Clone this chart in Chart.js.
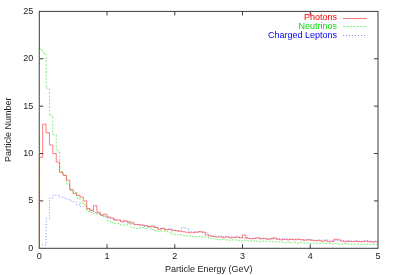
<!DOCTYPE html>
<html>
<head>
<meta charset="utf-8">
<script src="https://cdn.jsdelivr.net/npm/chart.js@4.4.0/dist/chart.umd.min.js"></script>
<style>
  html, body { margin: 0; padding: 0; background: #fff; }
  #wrap { width: 393px; height: 275px; }
</style>
</head>
<body>
<div id="wrap"><canvas id="spectrumChart" width="393" height="275"></canvas></div>
<script>
// histogram bins are 0.05 GeV wide, 100 bins from 0 to 5 GeV
const binWidth = 0.05;

const photons = [
  9.6, 13.1, 12.2, 10.9, 10.0, 9.1, 8.0, 7.7, 7.2, 6.2,
  5.8, 5.6, 5.4, 5.0, 4.2, 4.0, 4.5, 3.8, 3.5, 3.6,
  3.3, 3.2, 3.0, 3.0, 2.8, 2.9, 2.8, 2.7, 2.5, 2.5,
  2.45, 2.4, 2.3, 2.35, 2.2, 2.0, 2.1, 1.95, 2.0, 1.9,
  1.85, 1.8, 1.75, 1.7, 1.65, 1.65, 1.7, 1.75, 1.7, 1.4,
  1.3, 1.25, 1.2, 1.2, 1.15, 1.2, 1.1, 1.15, 1.2, 1.1,
  1.4, 1.05, 1.0, 1.05, 1.1, 1.0, 1.05, 0.95, 1.0, 1.1,
  0.95, 0.9, 0.95, 0.9, 0.95, 0.9, 0.95, 0.9, 0.85, 0.9,
  0.85, 0.8, 0.8, 0.75, 0.8, 0.7, 0.7, 0.95, 0.9, 0.75,
  0.7, 0.75, 0.7, 0.75, 0.7, 0.7, 0.75, 0.7, 0.65, 0.7
];

const neutrinos = [
  21.0, 20.6, 16.9, 14.0, 12.0, 10.3, 8.1, 7.7, 6.8, 6.1,
  5.9, 5.3, 4.8, 4.6, 3.9, 3.8, 3.7, 3.6, 3.5, 3.4,
  2.9, 2.7, 2.6, 2.6, 2.45, 2.45, 2.7, 2.2, 2.1, 2.15,
  2.2, 2.1, 2.2, 2.0, 1.85, 1.8, 1.85, 1.75, 1.7, 1.5,
  1.4, 1.45, 1.35, 1.3, 1.3, 1.25, 1.2, 1.25, 1.2, 1.15,
  1.05, 1.0, 0.95, 0.9, 0.95, 0.9, 0.85, 0.9, 0.85, 0.8,
  0.85, 0.8, 0.75, 0.8, 0.75, 0.7, 0.75, 0.7, 0.7, 0.65,
  0.7, 0.65, 0.6, 0.65, 0.6, 0.6, 0.55, 0.6, 0.55, 0.55,
  0.5, 0.55, 0.5, 0.55, 0.5, 0.5, 0.45, 0.5, 0.45, 0.45,
  0.5, 0.45, 0.4, 0.45, 0.45, 0.4, 0.45, 0.4, 0.4, 0.45
];

const chargedLeptons = [
  0.35, 0.35, 3.1, 5.3, 5.6, 5.6, 5.4, 5.3, 5.2, 5.0,
  4.9, 4.6, 4.4, 4.4, 4.1, 4.0, 3.8, 3.7, 3.5, 3.3,
  3.2, 3.1, 3.0, 2.9, 2.9, 2.8, 2.6, 2.6, 2.5, 2.4,
  2.4, 2.3, 2.3, 2.25, 2.2, 2.1, 2.1, 2.0, 2.05, 1.9,
  1.9, 1.85, 2.2, 2.1, 1.8, 1.75, 1.7, 1.75, 1.7, 1.6,
  1.35, 1.3, 1.25, 1.3, 1.2, 1.25, 1.2, 1.15, 1.2, 1.15,
  1.1, 1.15, 1.1, 1.05, 1.1, 1.05, 1.05, 1.0, 1.05, 1.0,
  1.0, 1.05, 0.95, 1.0, 0.95, 0.95, 1.0, 0.9, 0.95, 0.9,
  0.9, 0.85, 0.9, 0.85, 0.9, 0.85, 0.8, 0.85, 0.8, 0.8,
  0.85, 0.8, 0.75, 0.8, 0.75, 0.75, 0.8, 0.75, 0.7, 0.75
];

const seriesNames = ['Photons', 'Neutrinos', 'Charged Leptons'];
const xTicks = [0, 1, 2, 3, 4, 5];
const yTicks = [0, 5, 10, 15, 20, 25];

// left bin edges, plus closing point at the last edge
function toSteps(values) {
  const pts = [{ x: 0, y: 0 }];
  values.forEach((v, i) => pts.push({ x: i * binWidth, y: v }));
  pts.push({ x: values.length * binWidth, y: values[values.length - 1] });
  return pts;
}

const frame = {
  id: 'frame',
  beforeDatasetsDraw(chart) {
    const { ctx, chartArea: a, scales } = chart;
    const t = 4;
    ctx.save();
    ctx.strokeStyle = '#3a3a3a';
    ctx.lineWidth = 1;
    ctx.strokeRect(a.left, a.top, a.width, a.height);
    ctx.beginPath();
    scales.x.ticks.forEach(tk => {
      const px = scales.x.getPixelForValue(tk.value);
      if (px <= a.left + 1 || px >= a.right - 1) return;
      ctx.moveTo(px, a.bottom); ctx.lineTo(px, a.bottom - t);
      ctx.moveTo(px, a.top); ctx.lineTo(px, a.top + t);
    });
    scales.y.ticks.forEach(tk => {
      const py = scales.y.getPixelForValue(tk.value);
      if (py <= a.top + 1 || py >= a.bottom - 1) return;
      ctx.moveTo(a.left, py); ctx.lineTo(a.left + t, py);
      ctx.moveTo(a.right, py); ctx.lineTo(a.right - t, py);
    });
    ctx.stroke();
    ctx.restore();
  }
};

const keyBox = {
  id: 'keyBox',
  afterDatasetsDraw(chart) {
    const { ctx } = chart;
    const textRight = 337, lineX0 = 343, lineX1 = 367;
    ctx.save();
    ctx.font = "9px 'Liberation Sans', Arial, sans-serif";
    ctx.textAlign = 'right';
    ctx.textBaseline = 'middle';
    chart.data.datasets.forEach((ds, i) => {
      const y = 17.5 + i * 8.8;
      ctx.fillStyle = ds.textColor;
      ctx.fillText(ds.label, textRight, y);
      ctx.strokeStyle = ds.borderColor;
      ctx.lineWidth = 1;
      ctx.setLineDash(ds.borderDash || []);
      ctx.beginPath();
      ctx.moveTo(lineX0, Math.round(y) + 0.5);
      ctx.lineTo(lineX1, Math.round(y) + 0.5);
      ctx.stroke();
    });
    ctx.restore();
  }
};

Chart.defaults.font.family = "'Liberation Sans', Arial, sans-serif";
Chart.defaults.font.size = 9;
Chart.defaults.color = '#222';

const ctx = document.getElementById('spectrumChart').getContext('2d');
new Chart(ctx, {
  type: 'line',
  data: {
    datasets: [
      {
        label: seriesNames[0],
        data: toSteps(photons),
        borderColor: 'rgba(255, 40, 40, 0.6)',
        textColor: '#ff0000',
        borderWidth: 1
      },
      {
        label: seriesNames[1],
        data: toSteps(neutrinos),
        borderColor: 'rgba(40, 230, 40, 0.6)',
        textColor: '#00dd00',
        borderDash: [2, 1.5],
        borderWidth: 1
      },
      {
        label: seriesNames[2],
        data: toSteps(chargedLeptons),
        borderColor: 'rgba(60, 60, 255, 0.6)',
        textColor: '#0000ff',
        borderDash: [1, 2],
        borderWidth: 1
      }
    ]
  },
  options: {
    responsive: false,
    devicePixelRatio: 1,
    animation: false,
    events: [],
    layout: { padding: { top: 10.7, right: 15, left: 0, bottom: 0 } },
    elements: {
      point: { radius: 0 },
      line: { stepped: true, fill: false, tension: 0 }
    },
    datasets: { line: { clip: false } },
    plugins: {
      legend: { display: false },
      tooltip: { enabled: false }
    },
    scales: {
      x: {
        type: 'linear',
        min: 0,
        max: 5,
        afterBuildTicks: s => { s.ticks = xTicks.map(v => ({ value: v })); },
        afterFit: s => { s.height = 26.7; },
        grid: { display: false, drawTicks: false },
        border: { display: false },
        ticks: { padding: 3, color: '#222' },
        title: { display: true, text: 'Particle Energy (GeV)', color: '#222', padding: 0 }
      },
      y: {
        type: 'linear',
        min: 0,
        max: 25,
        afterBuildTicks: s => { s.ticks = yTicks.map(v => ({ value: v })); },
        afterFit: s => { s.width = 39.3; },
        grid: { display: false, drawTicks: false },
        border: { display: false },
        ticks: { padding: 6, color: '#222' },
        title: { display: true, text: 'Particle Number', color: '#222', padding: { top: 3, bottom: 0 } }
      }
    }
  },
  plugins: [frame, keyBox]
});
</script>
</body>
</html>
